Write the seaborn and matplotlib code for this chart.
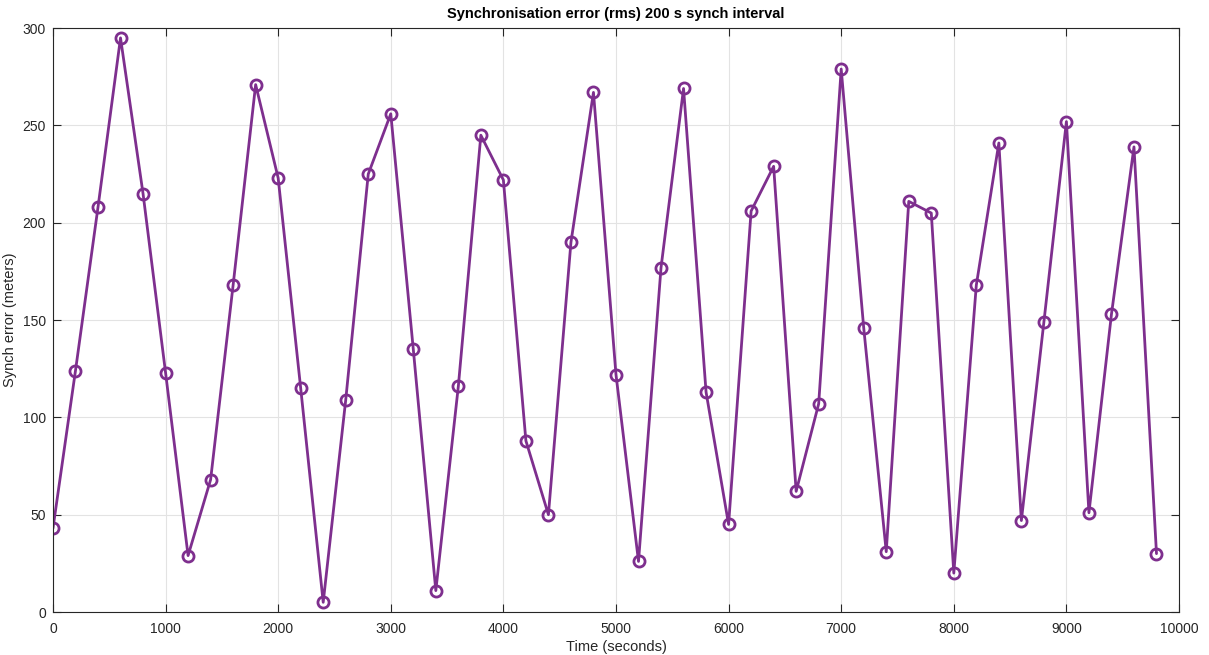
import numpy as np
import pandas as pd
import matplotlib
matplotlib.use("Agg")
import matplotlib.pyplot as plt
import seaborn as sns

time_s = list(range(0, 10000, 200))
synch_error = [43, 124, 208, 295, 215, 123, 29, 68, 168, 271,
               223, 115, 5, 109, 225, 256, 135, 11, 116, 245,
               222, 88, 50, 190, 267, 122, 26, 177, 269, 113,
               45, 206, 229, 62, 107, 279, 146, 31, 211, 205,
               20, 168, 241, 47, 149, 252, 51, 153, 239, 30]
x_ticks = [0, 1000, 2000, 3000, 4000, 5000, 6000, 7000, 8000, 9000, 10000]
y_ticks = [0, 50, 100, 150, 200, 250, 300]

df = pd.DataFrame({"t": time_s, "err": synch_error})

sns.set_theme(style="white")
plt.rcParams["font.family"] = ["Liberation Sans", "DejaVu Sans"]

fig = plt.figure(figsize=(12.09, 6.55), dpi=100)
ax = fig.add_axes([0.0438, 0.0656, 0.9314, 0.8914])

color = "#7E2F8E"
sns.lineplot(data=df, x="t", y="err", ax=ax, color=color, linewidth=2.0,
             marker="o", markersize=8, markerfacecolor="none",
             markeredgecolor=color, markeredgewidth=2.0)

ax.set_xlim(0, 10000)
ax.set_ylim(0, 300)
ax.set_xticks(x_ticks)
ax.set_yticks(y_ticks)
ax.grid(True, color="#e3e3e3", linewidth=0.8)
ax.set_axisbelow(True)
for s in ax.spines.values():
    s.set_color("#262626")
    s.set_linewidth(0.8)
ax.tick_params(direction="in", length=6, width=0.8, colors="#262626",
               labelsize=10, top=True, right=True, bottom=True, left=True,
               labelcolor="#262626")
ax.tick_params(axis="x", pad=7)
ax.tick_params(axis="y", pad=5)
ax.set_xlabel("Time (seconds)", fontsize=10.5, color="#262626", labelpad=3)
ax.set_ylabel("Synch error (meters)", fontsize=10.5, color="#262626", labelpad=4)
ax.set_title("Synchronisation error (rms) 200 s synch interval", fontsize=10.5,
             fontweight="bold", color="#000000", pad=7)

fig.savefig("out.png", dpi=100)
